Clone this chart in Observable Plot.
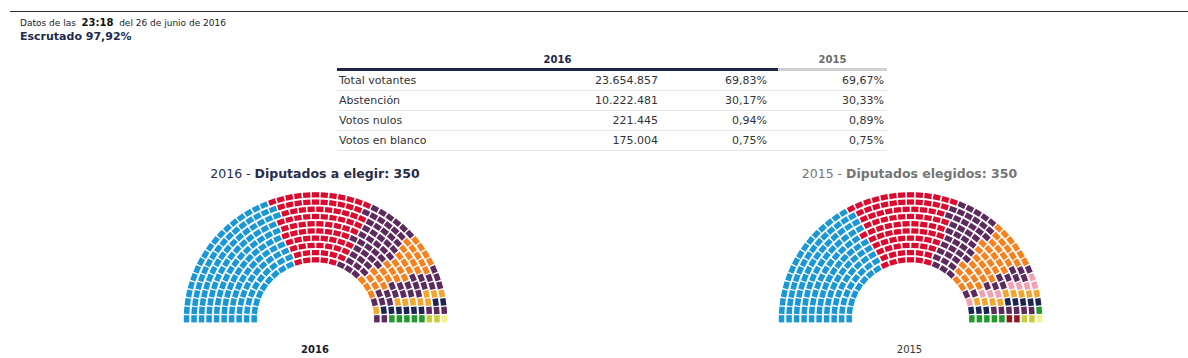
<!DOCTYPE html>
<html><head><meta charset="utf-8">
<script src="https://cdn.jsdelivr.net/npm/d3@7"></script>
<script src="https://cdn.jsdelivr.net/npm/@observablehq/plot@0.6"></script>
<style>
html,body{margin:0;padding:0;background:#fff;}
body{font-family:"DejaVu Sans",Verdana,sans-serif;}
#wrap{position:relative;width:1188px;height:358px;overflow:hidden;}
.abs{position:absolute;}
#topline{left:10px;top:11px;width:1178px;height:0;border-top:1px solid #2b2b2b;}
#datos{left:20px;top:17px;font-size:9px;color:#222;white-space:nowrap;}
#datos b{font-size:10px;color:#111;}
#escr{left:20px;top:30px;font-size:11px;font-weight:bold;color:#1d2b4f;white-space:nowrap;}
table{border-collapse:collapse;font-size:11px;color:#333;}
#tbl{left:337px;top:50px;width:550px;}
#tbl th{font-size:10px;height:18px;padding:0;vertical-align:middle;}
#tbl th.y16{color:#1d2745;border-bottom:3px solid #1d2745;}
#tbl th.y15{color:#6b6b6b;border-bottom:3px solid #d0d0d0;}
#tbl td{height:19px;padding:0;border-bottom:1px solid #e8e8e8;vertical-align:middle;white-space:nowrap;}
.title{font-size:12.5px;white-space:nowrap;transform:translateX(-50%);}
.lab{font-size:10px;white-space:nowrap;transform:translateX(-50%);}
</style></head>
<body><div id="wrap"></div>
<script>
// ---------- data ----------
const updateTime = "23:18";
const updateDate = "del 26 de junio de 2016";
const escrutado = 97.92;

const rowLabels = ["Total votantes", "Abstención", "Votos nulos", "Votos en blanco"];
const votes2016 = [23654857, 10222481, 221445, 175004];
const pct2016 = [69.83, 30.17, 0.94, 0.75];
const pct2015 = [69.67, 30.33, 0.89, 0.75];

const parties2016 = ["PP", "PSOE", "Unidos Podemos", "Cs", "ECP", "Compromís-Podemos-EUPV", "ERC-CATSÍ", "CDC", "Podemos-En Marea", "EAJ-PNV", "EH Bildu", "CCa-PNC"];
const seats2016 = [137, 85, 45, 32, 12, 9, 9, 8, 5, 5, 2, 1];
const colors2016 = ["#1a97d5", "#db0a2e", "#5d2a5e", "#f5821f", "#5d2a5e", "#5d2a5e", "#f4a52d", "#1b2452", "#5d2a5e", "#1f9a2b", "#c5cd3b", "#f3f28f"];

const parties2015 = ["PP", "PSOE", "Podemos", "Cs", "En Comú Podem", "Compromís-Podemos", "ERC-CATSÍ", "DL", "Podemos-En Marea", "EAJ-PNV", "IU-UPeC", "EH Bildu", "CCa-PNC"];
const seats2015 = [123, 90, 42, 40, 12, 9, 9, 8, 6, 6, 2, 2, 1];
const colors2015 = ["#1a97d5", "#db0a2e", "#5d2a5e", "#f5821f", "#5d2a5e", "#f2a0b2", "#f4a52d", "#1b2452", "#5d2a5e", "#1f9a2b", "#8e1a1d", "#c5cd3b", "#f3f28f"];

// ---------- formatting ----------
const es = d3.formatLocale({decimal: ",", thousands: ".", grouping: [3], currency: ["", " €"]});
const fInt = es.format(",d");
const fPct = v => es.format(".2f")(v) + "%";

const wrap = document.getElementById("wrap");
function el(tag, cls, html, style) {
  const e = document.createElement(tag);
  if (cls) e.className = cls;
  if (html != null) e.innerHTML = html;
  if (style) Object.assign(e.style, style);
  wrap.appendChild(e);
  return e;
}
el("div", "abs", null, {}).id = "topline";
el("div", "abs", `Datos de las&nbsp; <b>${updateTime}</b>&nbsp; ${updateDate}`).id = "datos";
el("div", "abs", `Escrutado ${fPct(escrutado)}`).id = "escr";

// ---------- table ----------
const tbl = el("table", "abs");
tbl.id = "tbl";
tbl.innerHTML = `<colgroup><col style="width:223px"><col style="width:100px"><col style="width:118px"><col style="width:109px"></colgroup>
<tr><th class="y16" colspan="3">2016</th><th class="y15">2015</th></tr>` +
rowLabels.map((l, i) => `<tr><td style="padding-left:2px">${l}</td><td style="text-align:right;padding-right:2px">${fInt(votes2016[i])}</td><td style="text-align:right;padding-right:11px">${fPct(pct2016[i])}</td><td style="text-align:right;padding-right:3px">${fPct(pct2015[i])}</td></tr>`).join("");

// ---------- hemicycle ----------
const ROWS = 10, R0 = 61.35, R1 = 128.95, THICK = 5.5;
function layout(parties, seats) {
  const total = d3.sum(seats);
  const radii = d3.range(ROWS).map(i => R0 + (R1 - R0) * i / (ROWS - 1));
  const sumR = d3.sum(radii);
  const raw = radii.map(r => total * r / sumR);
  const counts = raw.map(Math.floor);
  const rem = total - d3.sum(counts);
  const ord = d3.range(ROWS).sort((a, b) => (raw[b] - counts[b]) - (raw[a] - counts[a]));
  for (let k = 0; k < rem; k++) counts[ord[k]]++;
  const pos = [];
  radii.forEach((r, i) => {
    const n = counts[i];
    for (let j = 0; j < n; j++) pos.push({row: i, r, a: Math.PI * (1 - j / (n - 1))});
  });
  pos.sort((p, q) => q.a - p.a);
  let k = 0;
  parties.forEach((p, pi) => { for (let s = 0; s < seats[pi]; s++) pos[k++].party = p; });
  return pos;
}
function hemicycle(parties, seats, colors) {
  const data = layout(parties, seats);
  const cy = 134.3;
  return Plot.plot({
    width: 300, height: 150, margin: 0,
    style: {background: "transparent", overflow: "visible"},
    x: {domain: [-150, 150], range: [0, 300], axis: null},
    y: {domain: [0, 131.7], range: [cy, cy - 126.6], axis: null},
    color: {type: "ordinal", domain: parties, range: colors},
    marks: [
      Plot.link(data, {
        x1: d => (d.r - THICK / 2) * Math.cos(d.a),
        y1: d => (d.r - THICK / 2) * Math.sin(d.a),
        x2: d => (d.r + THICK / 2) * Math.cos(d.a),
        y2: d => (d.r + THICK / 2) * Math.sin(d.a),
        stroke: "party", strokeWidth: 7.2, strokeLinecap: "butt", strokeOpacity: 1
      })
    ]
  });
}
function addChart(cx, year, titleHtml, titleColor, labelStyle, parties, seats, colors) {
  el("div", "abs title", titleHtml, {left: cx + "px", top: "166px", color: titleColor});
  const p = hemicycle(parties, seats, colors);
  p.style.position = "absolute";
  p.style.left = (cx - 150) + "px";
  p.style.top = "184px";
  wrap.appendChild(p);
  el("div", "abs lab", year, Object.assign({left: cx + "px", top: "344px"}, labelStyle));
}
addChart(315, "2016", `2016 - <b>Diputados a elegir: ${d3.sum(seats2016)}</b>`, "#262c4a",
  {fontWeight: "bold", color: "#1a1a2a"}, parties2016, seats2016, colors2016);
addChart(909.5, "2015", `2015 - <b>Diputados elegidos: ${d3.sum(seats2015)}</b>`, "#757575",
  {fontWeight: "normal", color: "#333"}, parties2015, seats2015, colors2015);
</script>
</body></html>
